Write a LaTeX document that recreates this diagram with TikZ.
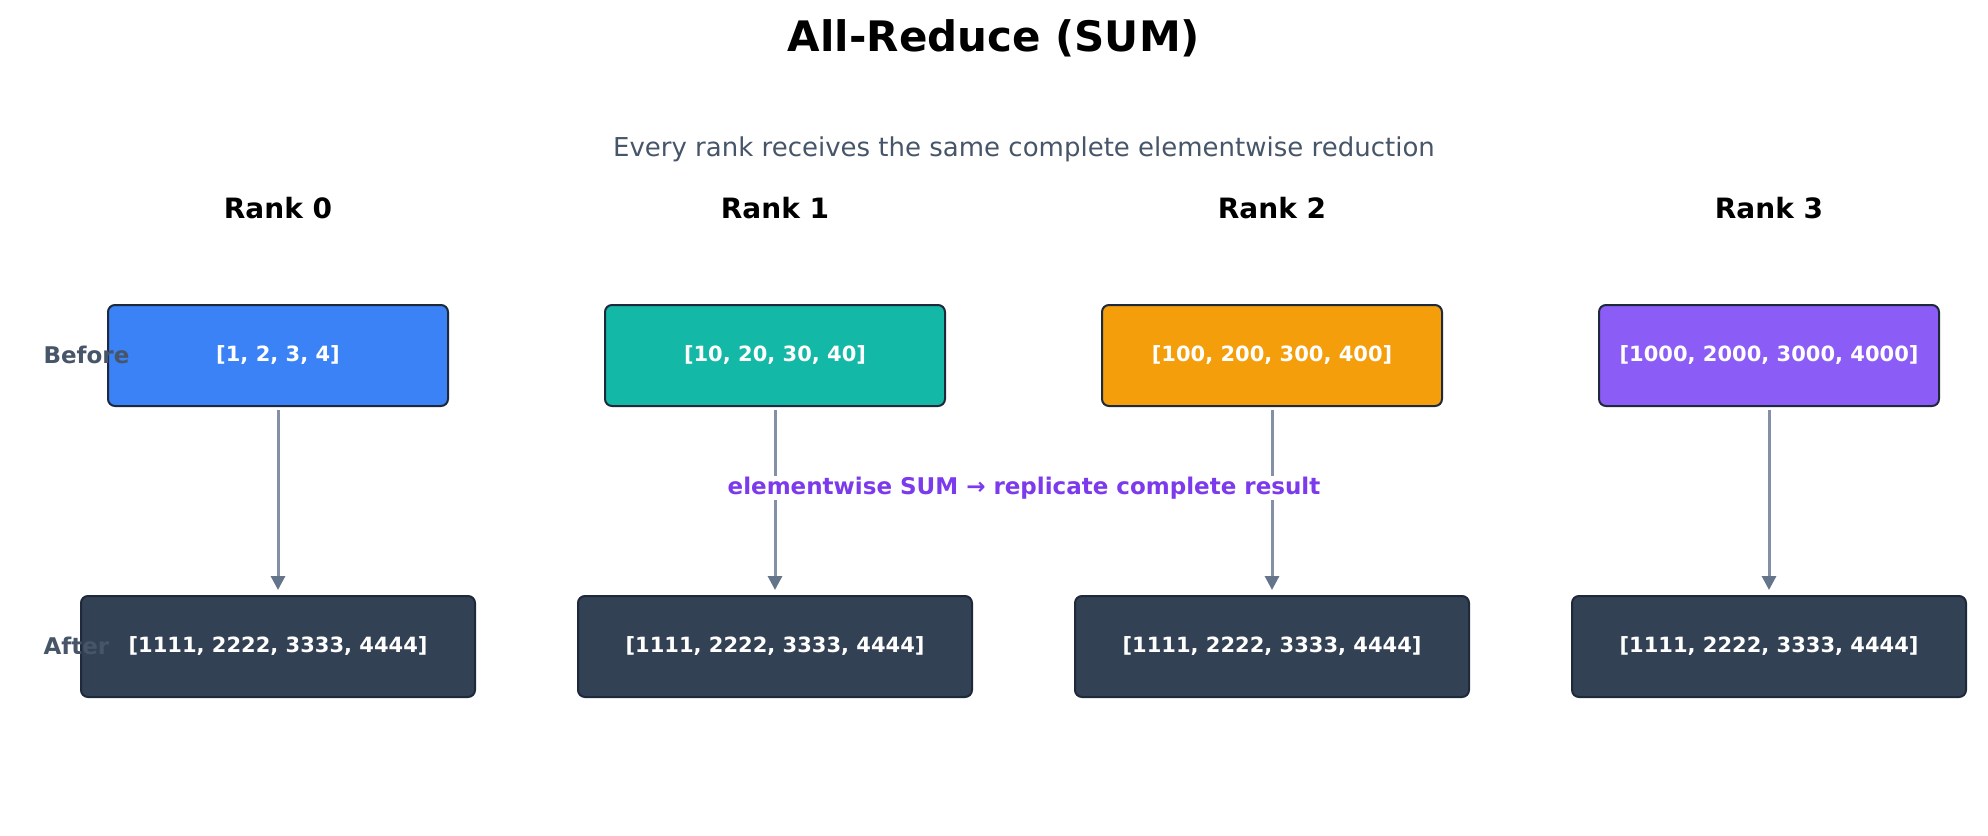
\documentclass[tikz,border=0pt]{standalone}
\usepackage{fontspec}
\setmainfont{DejaVu Sans}
\usetikzlibrary{arrows.meta}
\definecolor{sub}{HTML}{475569}
\definecolor{c0}{HTML}{3B82F6}
\definecolor{c1}{HTML}{14B8A6}
\definecolor{c2}{HTML}{F59E0B}
\definecolor{c3}{HTML}{8B5CF6}
\definecolor{aft}{HTML}{334155}
\definecolor{bord}{HTML}{1E293B}
\definecolor{arr}{HTML}{8390A6}
\definecolor{arrtip}{HTML}{64748B}
\definecolor{purp}{HTML}{7C3AED}
\begin{document}
\begin{tikzpicture}[x=1pt,y=-1pt,
  box/.style={draw=bord,line width=2pt,rounded corners=7pt,text=white,font=\fontsize{21}{24}\selectfont\bfseries,inner sep=0pt},
  bef/.style={box,minimum width=340pt,minimum height=101pt},
  aftr/.style={box,fill=aft,minimum width=394pt,minimum height=101pt},
  rank/.style={font=\fontsize{28}{32}\selectfont\bfseries},
  side/.style={text=sub,font=\fontsize{23}{26}\selectfont\bfseries,anchor=west},
  conn/.style={draw=arr,line width=3pt,-{Triangle[length=14pt,width=14pt,color=arrtip]},shorten <=3pt,shorten >=5pt}]
\useasboundingbox (0,0) rectangle (1988,835);
\node[font=\fontsize{42}{48}\selectfont\bfseries] (title) at (994,38) {All-Reduce (SUM)};
\node[text=sub,font=\fontsize{26}{30}\selectfont] (subt) at (1024,149) {Every rank receives the same complete elementwise reduction};
\foreach \i/\x/\c/\t in {0/278/c0/{[1, 2, 3, 4]},1/775/c1/{[10, 20, 30, 40]},2/1272/c2/{[100, 200, 300, 400]},3/1769/c3/{[1000, 2000, 3000, 4000]}}{
  \node[rank] (r\i) at (\x,208) {Rank \i};
  \node[bef,fill=\c] (b\i) at (\x,355.5) {\t};
  \node[aftr] (a\i) at (\x,646.5) {[1111, 2222, 3333, 4444]};
  \draw[conn] (b\i) -- (a\i);
}
\node[side] (lb) at (40,355) {Before};
\node[side] (la) at (40,646) {After};
\node[text=purp,font=\fontsize{23}{26}\selectfont\bfseries,fill=white,inner sep=1pt] (mid) at (1024,488) {elementwise SUM → replicate complete result};
\end{tikzpicture}
\end{document}
